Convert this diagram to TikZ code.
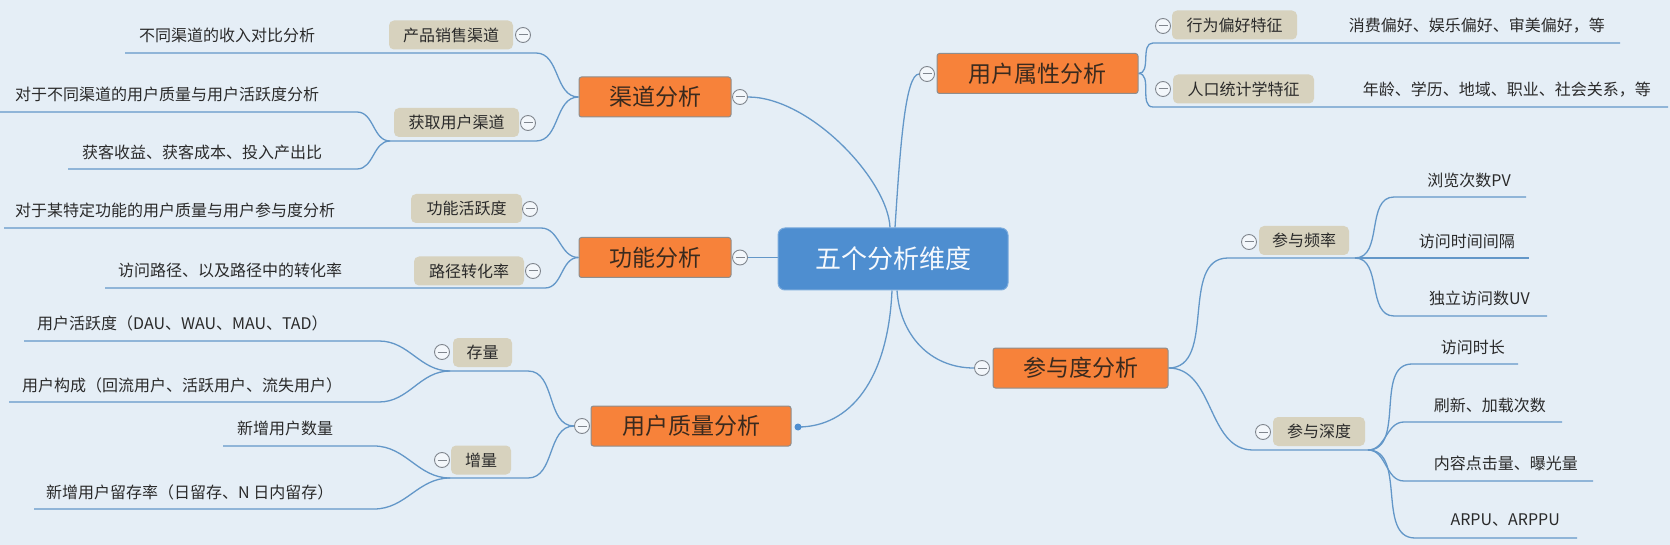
\documentclass[tikz,border=0pt]{standalone}
\usepackage{fontspec}
\setmainfont{Noto Sans CJK SC}
\usetikzlibrary{backgrounds}
\definecolor{bg}{HTML}{E5EEF6}
\definecolor{orangefill}{HTML}{F7823A}
\definecolor{orangedraw}{HTML}{8E8E8E}
\definecolor{topictext}{HTML}{3A2A1E}
\definecolor{rootfill}{HTML}{4E8ED0}
\definecolor{tanfill}{HTML}{D7D2BE}
\definecolor{linecol}{HTML}{6397C8}
\definecolor{circdraw}{HTML}{80868E}
\definecolor{txt}{HTML}{2A2A2A}
\tikzset{
  rootbox/.style={draw=rootfill!75!white, line width=1pt, fill=rootfill, rounded corners=7pt,
    minimum width=230pt, minimum height=62pt, text=white!95!rootfill,
    font=\fontsize{26}{30}\selectfont, inner sep=0pt},
  topicbox/.style={draw=orangedraw, line width=1pt, fill=orangefill, rounded corners=2.5pt,
    minimum height=40pt, text=topictext, font=\fontsize{23}{27}\selectfont, inner sep=0pt},
  tagbox/.style={fill=tanfill, rounded corners=5pt, minimum height=29pt,
    font=\fontsize{16}{19}\selectfont, text=txt, inner sep=0pt},
  leaf/.style={font=\fontsize{16}{19}\selectfont, text=txt, inner sep=0pt},
  fold/.style={circle, draw=circdraw, fill=white!55!bg, line width=0.9pt, minimum size=15pt,
    inner sep=0pt, path picture={\draw[circdraw, line width=1pt]
      ([xshift=-4.5pt]path picture bounding box.center) --
      ([xshift=4.5pt]path picture bounding box.center);}},
  conn/.style={draw=linecol, line width=1.3pt},
}
\begin{document}
\begin{tikzpicture}[x=1pt,y=-1pt]
\useasboundingbox (0,0) rectangle (1670,545);
% ---------- main topics
\node[rootbox] (root) at (893,259) {五个分析维度};
\node[topicbox, minimum width=152pt] (qd) at (655,97) {渠道分析};
\node[topicbox, minimum width=152pt] (gn) at (655,257.5) {功能分析};
\node[topicbox, minimum width=200pt] (zl) at (691,426) {用户质量分析};
\node[topicbox, minimum width=201pt] (sx) at (1037.5,73.5) {用户属性分析};
\node[topicbox, minimum width=175pt] (cy) at (1080.5,368) {参与度分析};
\node[fold] (fqd) at (740,97) {};
\node[fold] (fgn) at (740,257.5) {};
\node[fold] (fzl) at (582,426) {};
\node[fold] (fsx) at (927,74) {};
\node[fold] (fcy) at (982,368) {};
\node[circle, fill=rootfill, minimum size=7pt, inner sep=0pt] (dzl) at (798,427) {};
% ---------- sub topics
\node[tagbox, minimum width=124pt] (b1) at (451,35) {产品销售渠道};
\node[tagbox, minimum width=125pt] (b2) at (456.5,122.5) {获取用户渠道};
\node[tagbox, minimum width=111pt] (b3) at (466.5,208.5) {功能活跃度};
\node[tagbox, minimum width=110pt] (b4) at (469,271) {路径转化率};
\node[tagbox, minimum width=59pt] (b5) at (482.5,352.5) {存量};
\node[tagbox, minimum width=60pt] (b6) at (481,460) {增量};
\node[tagbox, minimum width=125pt] (b7) at (1234.5,25) {行为偏好特征};
\node[tagbox, minimum width=141pt] (b8) at (1243.5,89) {人口统计学特征};
\node[tagbox, minimum width=90pt] (b9) at (1304,240.5) {参与频率};
\node[tagbox, minimum width=92pt] (b10) at (1319,431.5) {参与深度};
\node[fold] (fb1) at (523,35) {};
\node[fold] (fb2) at (528,123) {};
\node[fold] (fb3) at (530,209) {};
\node[fold] (fb4) at (533,271) {};
\node[fold] (fb5) at (442,352) {};
\node[fold] (fb6) at (442,460) {};
\node[fold] (fb7) at (1163,26) {};
\node[fold] (fb8) at (1163,89) {};
\node[fold] (fb9) at (1249,242) {};
\node[fold] (fb10) at (1263,432) {};
% ---------- leaves
\node[leaf, anchor=west] (l1) at (139,35) {不同渠道的收入对比分析};
\node[leaf, anchor=west] (l2) at (15,94) {对于不同渠道的用户质量与用户活跃度分析};
\node[leaf, anchor=west] (l3) at (82,152) {获客收益、获客成本、投入产出比};
\node[leaf, anchor=west] (l4) at (15,210) {对于某特定功能的用户质量与用户参与度分析};
\node[leaf, anchor=west] (l5) at (118,270) {访问路径、以及路径中的转化率};
\node[leaf, anchor=west] (l6) at (37,323) {用户活跃度（DAU、WAU、MAU、TAD）};
\node[leaf, anchor=west] (l7) at (22,385) {用户构成（回流用户、活跃用户、流失用户）};
\node[leaf, anchor=west] (l8) at (237,428) {新增用户数量};
\node[leaf, anchor=west] (l9) at (46,492) {新增用户留存率（日留存、N 日内留存）};
\node[leaf, anchor=east] (r1) at (1605,26) {消费偏好、娱乐偏好、审美偏好，等};
\node[leaf, anchor=east] (r2) at (1651,90) {年龄、学历、地域、职业、社会关系，等};
\node[leaf, anchor=east] (r3) at (1511,180) {浏览次数PV};
\node[leaf, anchor=east] (r4) at (1515,241) {访问时间间隔};
\node[leaf, anchor=east] (r5) at (1530,298) {独立访问数UV};
\node[leaf, anchor=east] (r6) at (1505,347) {访问时长};
\node[leaf, anchor=east] (r7) at (1546,405) {刷新、加载次数};
\node[leaf, anchor=east] (r8) at (1578,463) {内容点击量、曝光量};
\node[leaf, anchor=east] (r9) at (1560,520) {ARPU、ARPPU};
% ---------- branch coordinates
\coordinate (q1) at (536,53);   \coordinate (q1e) at (125,53);
\coordinate (q2) at (536,141);  \coordinate (q2b) at (390,141);
\coordinate (q21) at (357,112); \coordinate (q21e) at (0,112);
\coordinate (q22) at (357,169); \coordinate (q22e) at (68,169);
\coordinate (g1) at (541,228);  \coordinate (g1e) at (4,228);
\coordinate (g2) at (545,288);  \coordinate (g2e) at (105,288);
\coordinate (z1) at (528,371);  \coordinate (z1b) at (450,371);
\coordinate (z11) at (379,341); \coordinate (z11e) at (24,341);
\coordinate (z12) at (379,402); \coordinate (z12e) at (9,402);
\coordinate (z2) at (528,478);  \coordinate (z2b) at (450,478);
\coordinate (z21) at (374,446); \coordinate (z21e) at (223,446);
\coordinate (z22) at (374,509); \coordinate (z22e) at (34,509);
\coordinate (s1) at (1153,43);  \coordinate (s1e) at (1620,43);
\coordinate (s2) at (1153,107); \coordinate (s2e) at (1668,107);
\coordinate (c1) at (1228,258); \coordinate (c1b) at (1355,258);
\coordinate (c11) at (1394,197); \coordinate (c11e) at (1526,197);
\coordinate (c12e) at (1529,258);
\coordinate (c13) at (1394,316); \coordinate (c13e) at (1547,316);
\coordinate (c2) at (1253,450); \coordinate (c2b) at (1368,450);
\coordinate (c21) at (1412,364); \coordinate (c21e) at (1518,364);
\coordinate (c22) at (1404,422); \coordinate (c22e) at (1562,422);
\coordinate (c23) at (1404,481); \coordinate (c23e) at (1593,481);
\coordinate (c24) at (1415,538); \coordinate (c24e) at (1577,538);
% ---------- connectors
\begin{scope}[on background layer]
\fill[bg] (0,0) rectangle (1670,545);
\draw[conn] ([xshift=-3pt]root.north) .. controls (888,180) and (810,97) .. (fqd.east);
\draw[conn] ([xshift=2pt]root.north) .. controls (900,150) and (905,74) .. (fsx.west);
\draw[conn] (fgn.east) -- (fgn.east -| root.west);
\draw[conn] ([xshift=-1pt]root.south) .. controls (888,380) and (850,427) .. (dzl.center);
\draw[conn] ([xshift=4pt]root.south) .. controls (900,335) and (930,368) .. (fcy.west);
% channel
\draw[conn] (qd.west) to[out=180,in=0] (q1) -- (q1e);
\draw[conn] (qd.west) to[out=180,in=0] (q2) -- (q2b);
\draw[conn] (q2b) to[out=180,in=0] (q21) -- (q21e);
\draw[conn] (q2b) to[out=180,in=0] (q22) -- (q22e);
% function
\draw[conn] (gn.west) to[out=180,in=0] (g1) -- (g1e);
\draw[conn] (gn.west) to[out=180,in=0] (g2) -- (g2e);
% quality
\draw[conn] (fzl.west) to[out=180,in=0] (z1) -- (z1b);
\draw[conn] (z1b) to[out=180,in=0] (z11) -- (z11e);
\draw[conn] (z1b) to[out=180,in=0] (z12) -- (z12e);
\draw[conn] (fzl.west) to[out=180,in=0] (z2) -- (z2b);
\draw[conn] (z2b) to[out=180,in=0] (z21) -- (z21e);
\draw[conn] (z2b) to[out=180,in=0] (z22) -- (z22e);
% attributes
\draw[conn] (sx.east) to[out=0,in=180] (s1) -- (s1e);
\draw[conn] (sx.east) to[out=0,in=180] (s2) -- (s2e);
% engagement
\draw[conn] (cy.east) to[out=0,in=180] (c1) -- (c1b);
\draw[conn] (c1b) to[out=0,in=180] (c11) -- (c11e);
\draw[conn] (c1b) -- (c12e);
\draw[conn] (c1b) to[out=0,in=180] (c13) -- (c13e);
\draw[conn] (cy.east) to[out=0,in=180] (c2) -- (c2b);
\draw[conn] (c2b) to[out=0,in=180] (c21) -- (c21e);
\draw[conn] (c2b) to[out=0,in=180] (c22) -- (c22e);
\draw[conn] (c2b) to[out=0,in=180] (c23) -- (c23e);
\draw[conn] (c2b) to[out=0,in=180] (c24) -- (c24e);
\end{scope}
\end{tikzpicture}
\end{document}
